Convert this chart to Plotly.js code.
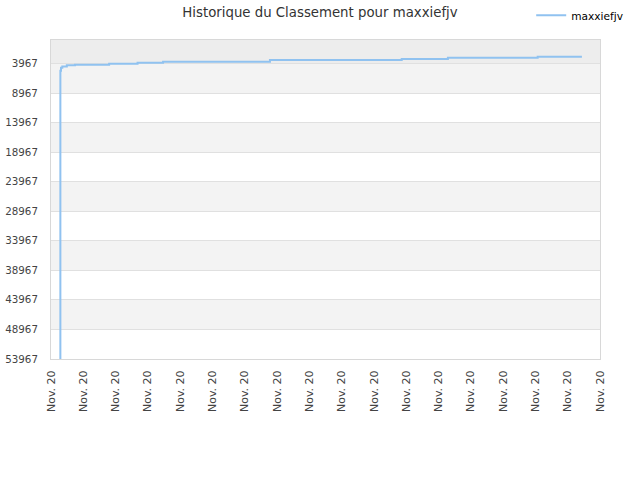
<!DOCTYPE html>
<html>
<head>
<meta charset="utf-8">
<script src="https://cdn.plot.ly/plotly-3.0.1.min.js"></script>
<style>
  body { margin: 0; background: #fff; }
  #chart { width: 640px; height: 480px; }
</style>
</head>
<body>
<div id="chart"></div>
<script>
// Ranking history (lower = better), x in tick units
const playerName = 'maxxiefjv';
const times = [0.27, 0.29, 0.31, 0.35, 0.49, 0.74, 1.80, 2.68, 3.47, 6.78, 10.86, 12.29, 15.07, 16.44];
const ranks = [60000, 5200, 4700, 4500, 4290, 4180, 4010, 3840, 3670, 3380, 3215, 2990, 2825, 2825];

// Axis ticks
const xTickLabels = ['Nov. 20', 'Nov. 20', 'Nov. 20', 'Nov. 20', 'Nov. 20', 'Nov. 20', 'Nov. 20', 'Nov. 20', 'Nov. 20',
                     'Nov. 20', 'Nov. 20', 'Nov. 20', 'Nov. 20', 'Nov. 20', 'Nov. 20', 'Nov. 20', 'Nov. 20', 'Nov. 20'];
const yTicks = [3967, 8967, 13967, 18967, 23967, 28967, 33967, 38967, 43967, 48967, 53967];

function drawChart() {
    const rankTrace = {
        x: times,
        y: ranks,
        type: 'scatter',
        mode: 'lines',
        name: playerName,
        line: { color: '#90c2f0', width: 2, shape: 'hv' }
    };

    // alternating bands between gridlines
    const bands = [{
        type: 'rect', xref: 'paper', yref: 'y', layer: 'below',
        x0: 0, x1: 1, y0: 0, y1: yTicks[0],
        fillcolor: '#ededed', line: { width: 0 }
    }];
    for (let i = 0; i < yTicks.length - 1; i += 2) {
        bands.push({
            type: 'rect', xref: 'paper', yref: 'y', layer: 'below',
            x0: 0, x1: 1, y0: yTicks[i], y1: yTicks[i + 1],
            fillcolor: '#f3f3f3', line: { width: 0 }
        });
    }

    const layout = {
        width: 640,
        height: 480,
        margin: { l: 51, r: 40, t: 40, b: 121, autoexpand: false },
        paper_bgcolor: '#ffffff',
        plot_bgcolor: '#ffffff',
        font: { family: 'DejaVu Sans, Verdana, sans-serif', size: 11, color: '#444' },
        title: {
            text: 'Historique du Classement pour ' + playerName,
            font: { size: 13.3, color: '#333' },
            x: 0.5, xanchor: 'center', y: 0.975, yanchor: 'middle'
        },
        showlegend: true,
        legend: {
            xref: 'container', yref: 'container',
            x: 0.83, xanchor: 'left', y: 0.968, yanchor: 'middle',
            font: { size: 10.6, color: '#000' },
            bgcolor: 'rgba(0,0,0,0)'
        },
        xaxis: {
            range: [0, 17],
            tickmode: 'array',
            tickvals: xTickLabels.map((_, i) => i),
            ticktext: xTickLabels,
            tickangle: -90,
            ticks: 'outside', ticklen: 6, tickcolor: 'rgba(0,0,0,0)',
            showgrid: false,
            zeroline: false,
            showline: true, mirror: true, linecolor: '#d8d8d8', linewidth: 1
        },
        yaxis: {
            range: [53967, 0],
            tickmode: 'array',
            tickvals: yTicks,
            ticktext: yTicks.map(String),
            tickfont: { size: 10.3 },
            ticks: 'outside', ticklen: 10, tickcolor: 'rgba(0,0,0,0)',
            showgrid: true, gridcolor: '#e0e0e0', gridwidth: 1,
            zeroline: false,
            showline: true, mirror: true, linecolor: '#d8d8d8', linewidth: 1
        },
        shapes: bands
    };

    Plotly.newPlot('chart', [rankTrace], layout, { displayModeBar: false, staticPlot: true });
}

drawChart();
</script>
</body>
</html>
